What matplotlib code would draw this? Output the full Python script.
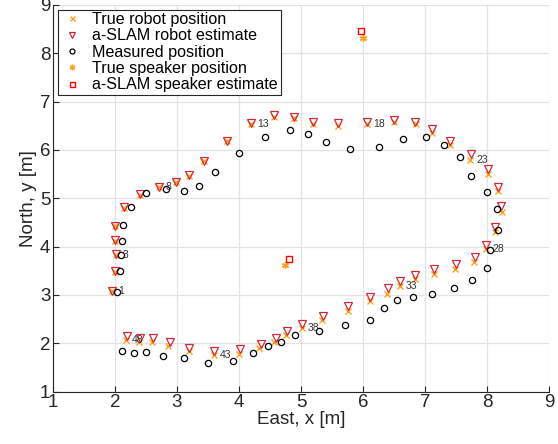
import numpy as np
import matplotlib
matplotlib.use('Agg')
import matplotlib.pyplot as plt

plt.rcParams['font.family'] = ['Liberation Sans', 'DejaVu Sans']

# a-SLAM robot estimate (triangles)
est_x = [1.95, 2.005, 2.02, 2.005, 2.005, 2.145, 2.40, 2.71, 2.98, 3.19, 3.44, 3.80,
         4.20, 4.56, 4.88, 5.20, 5.60, 6.06, 6.50, 6.84, 7.12, 7.41, 7.74, 8.02,
         8.18, 8.23, 8.12, 7.98, 7.80, 7.50, 7.14, 6.84, 6.60, 6.40, 6.12, 5.76,
         5.35, 5.02, 4.77, 4.60, 4.35, 4.02, 3.60, 3.20, 2.88, 2.62, 2.41, 2.20]
est_y = [3.09, 3.49, 3.84, 4.13, 4.43, 4.81, 5.08, 5.24, 5.34, 5.48, 5.78, 6.19,
         6.55, 6.72, 6.69, 6.58, 6.55, 6.58, 6.62, 6.58, 6.44, 6.19, 5.92, 5.61,
         5.24, 4.84, 4.40, 4.04, 3.78, 3.63, 3.54, 3.42, 3.28, 3.14, 2.96, 2.77,
         2.57, 2.39, 2.26, 2.11, 1.99, 1.88, 1.84, 1.90, 2.03, 2.10, 2.10, 2.14]

# true robot position (crosses)
true_x = [1.95, 2.00, 2.02, 2.00, 2.00, 2.14, 2.40, 2.71, 2.98, 3.19, 3.44, 3.80,
          4.20, 4.56, 4.89, 5.20, 5.60, 6.06, 6.50, 6.85, 7.12, 7.41, 7.73, 8.01,
          8.18, 8.24, 8.13, 7.98, 7.79, 7.49, 7.14, 6.83, 6.59, 6.39, 6.11, 5.76,
          5.34, 5.01, 4.76, 4.57, 4.32, 4.00, 3.59, 3.19, 2.86, 2.60, 2.39, 2.17]
true_y = [3.08, 3.48, 3.83, 4.12, 4.42, 4.80, 5.07, 5.23, 5.33, 5.47, 5.77, 6.18,
          6.53, 6.69, 6.66, 6.54, 6.50, 6.53, 6.57, 6.53, 6.35, 6.10, 5.80, 5.50,
          5.15, 4.72, 4.30, 3.96, 3.69, 3.54, 3.43, 3.32, 3.19, 3.02, 2.87, 2.67,
          2.49, 2.31, 2.18, 2.03, 1.91, 1.78, 1.76, 1.84, 1.95, 2.03, 2.03, 2.06]

# measured position (circles)
meas_x = [2.03, 2.08, 2.09, 2.12, 2.13, 2.25, 2.50, 2.83, 3.11, 3.35, 3.62, 4.00,
          4.42, 4.82, 5.11, 5.41, 5.79, 6.25, 6.65, 7.01, 7.30, 7.56, 7.74, 8.00,
          8.16, 8.17, 8.04, 8.00, 7.75, 7.47, 7.12, 6.80, 6.54, 6.34, 6.11, 5.71,
          5.29, 4.91, 4.67, 4.47, 4.23, 3.91, 3.50, 3.11, 2.77, 2.50, 2.30, 2.11]
meas_y = [3.07, 3.49, 3.83, 4.12, 4.44, 4.82, 5.11, 5.19, 5.16, 5.26, 5.55, 5.93,
          6.26, 6.42, 6.32, 6.17, 6.02, 6.06, 6.22, 6.26, 6.11, 5.86, 5.47, 5.12,
          4.78, 4.35, 3.93, 3.55, 3.30, 3.15, 3.02, 2.96, 2.89, 2.72, 2.49, 2.38,
          2.25, 2.18, 2.03, 1.94, 1.80, 1.63, 1.59, 1.70, 1.74, 1.81, 1.79, 1.85]

# speakers
spk_true_x = [6.00, 4.74]
spk_true_y = [8.31, 3.62]
spk_est_x = [5.96, 4.81]
spk_est_y = [8.45, 3.74]

# step numbers written next to the track
label_steps = [1, 3, 8, 13, 18, 23, 28, 33, 38, 43, 48]

orange = '#ff9f1a'
red = '#d2283a'

fig = plt.figure(figsize=(5.58, 4.44), dpi=100)
ax = fig.add_axes([0.095, 0.118, 0.889, 0.871])

ax.plot(true_x, true_y, 'x', color=orange, ms=4.5, mew=1.0, label='True robot position')
ax.plot(est_x, est_y, 'v', color=red, mfc='none', ms=5.5, mew=0.9, label='a-SLAM robot estimate')
ax.plot(meas_x, meas_y, 'o', color='black', mfc='none', ms=4.5, mew=0.9, label='Measured position')
ax.plot(spk_true_x, spk_true_y, marker=(6, 2, 0), ls='none', color=orange, ms=5, mew=1.0,
        label='True speaker position')
ax.plot(spk_est_x, spk_est_y, 's', color='red', mfc='none', ms=4.5, mew=1.0,
        label='a-SLAM speaker estimate')

# step labels
for k in label_steps:
    ax.text(true_x[k - 1] + 0.1, true_y[k - 1], str(k), fontsize=7.5,
            color='#333333', va='center', ha='left')

ax.set_xlim(1, 9)
ax.set_ylim(1, 9)
ax.set_xticks(np.arange(1, 10))
ax.set_yticks(np.arange(1, 10))
ax.grid(True, color='#e3e3e3', lw=0.9)
ax.set_axisbelow(True)
for side in ['top', 'right']:
    ax.spines[side].set_visible(False)
for side in ['left', 'bottom']:
    ax.spines[side].set_color('#262626')
    ax.spines[side].set_linewidth(0.8)
ax.tick_params(direction='in', length=4, width=0.8, colors='#262626', labelsize=13.5, pad=2)
ax.set_xlabel('East, x [m]', fontsize=13.5, color='#262626', labelpad=0)
ax.set_ylabel('North, y [m]', fontsize=13.5, color='#262626', labelpad=2)

leg = ax.legend(loc='upper left', fontsize=11.6, frameon=True, fancybox=False,
                edgecolor='#262626', framealpha=1, borderpad=0.15, labelspacing=0.08,
                handlelength=1.5, handletextpad=0.5, borderaxespad=0.3, markerscale=0.8)
leg.get_frame().set_linewidth(0.8)

fig.savefig('out.png', dpi=100)
